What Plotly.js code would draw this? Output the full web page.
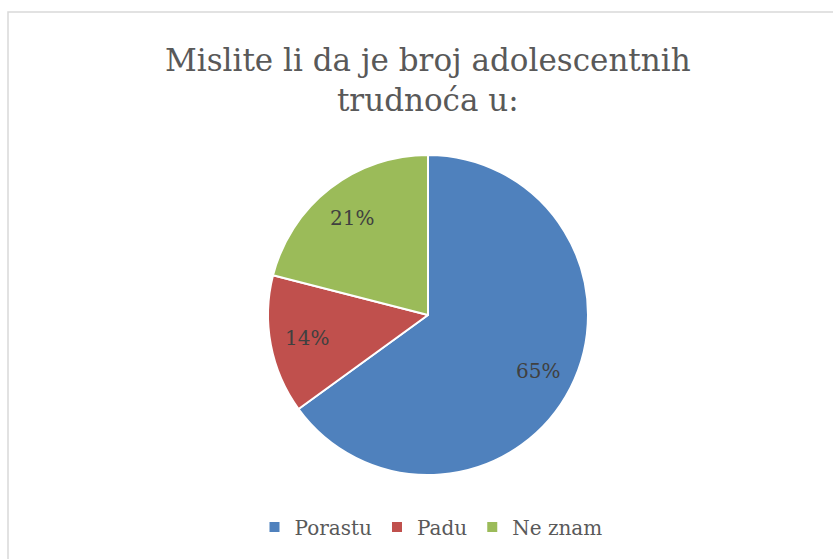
<!DOCTYPE html>
<html><head><meta charset="utf-8">
<script src="https://cdn.plot.ly/plotly-3.0.1.min.js"></script>
<style>html,body{margin:0;padding:0;background:#fff;}#chart{width:833px;height:559px;}</style>
</head><body><div id="chart"></div>
<script>
var categories = ["Porastu", "Padu", "Ne znam"];
var values = [65, 14, 21];
var colors = ["#4F81BD", "#C0504D", "#9BBB59"];
var titleText = "Mislite li da je broj adolescentnih<br>trudnoća u:";

var W = 833, H = 559;
var cx = 428, cy = 315, r = 160;
var font = "DejaVu Serif, serif";

var trace = {
  type: "pie",
  labels: categories,
  values: values,
  sort: false,
  direction: "clockwise",
  rotation: 0,
  marker: {colors: colors, line: {color: "#ffffff", width: 2}},
  textinfo: "none",
  hoverinfo: "label+percent",
  domain: {x: [(cx - r) / W, (cx + r) / W], y: [1 - (cy + r) / H, 1 - (cy - r) / H]}
};

// data labels placed at each slice's mid-angle, computed from the values
var total = values.reduce(function (a, b) { return a + b; }, 0);
var labelAnn = [];
var cum = 0;
var rf = 0.77;
values.forEach(function (v) {
  var mid = (cum + v / 2) / total * 2 * Math.PI;
  cum += v;
  var px = cx + Math.sin(mid) * r * rf;
  var py = cy - Math.cos(mid) * r * rf;
  labelAnn.push({
    text: Math.round(v / total * 100) + "%", showarrow: false,
    xref: "paper", yref: "paper", x: px / W, y: 1 - py / H,
    xanchor: "center", yanchor: "middle",
    font: {family: font, size: 20, color: "#404040"}
  });
});

var layout = {
  width: W, height: H,
  margin: {l: 0, r: 0, t: 0, b: 0},
  paper_bgcolor: "#ffffff",
  showlegend: true,
  legend: {
    orientation: "h", x: 431 / W, xanchor: "center", y: 1 - 527 / H, yanchor: "middle",
    font: {family: font, size: 20, color: "#595959"},
    itemwidth: 30, traceorder: "normal", tracegroupgap: 0
  },
  annotations: [{
    text: titleText, showarrow: false, xref: "paper", yref: "paper",
    x: 428 / W, y: 1 - 80 / H, xanchor: "center", yanchor: "middle",
    font: {family: font, size: 31, color: "#595959"}, align: "center"
  }].concat(labelAnn),
  shapes: [{
    type: "rect", xref: "paper", yref: "paper",
    x0: 8 / W, x1: 1.2, y0: -0.2, y1: 1 - 12 / H,
    line: {color: "#d9d9d9", width: 1.5}, fillcolor: "rgba(0,0,0,0)"
  }]
};

Plotly.newPlot("chart", [trace], layout, {displayModeBar: false, staticPlot: true});
</script>
</body></html>
